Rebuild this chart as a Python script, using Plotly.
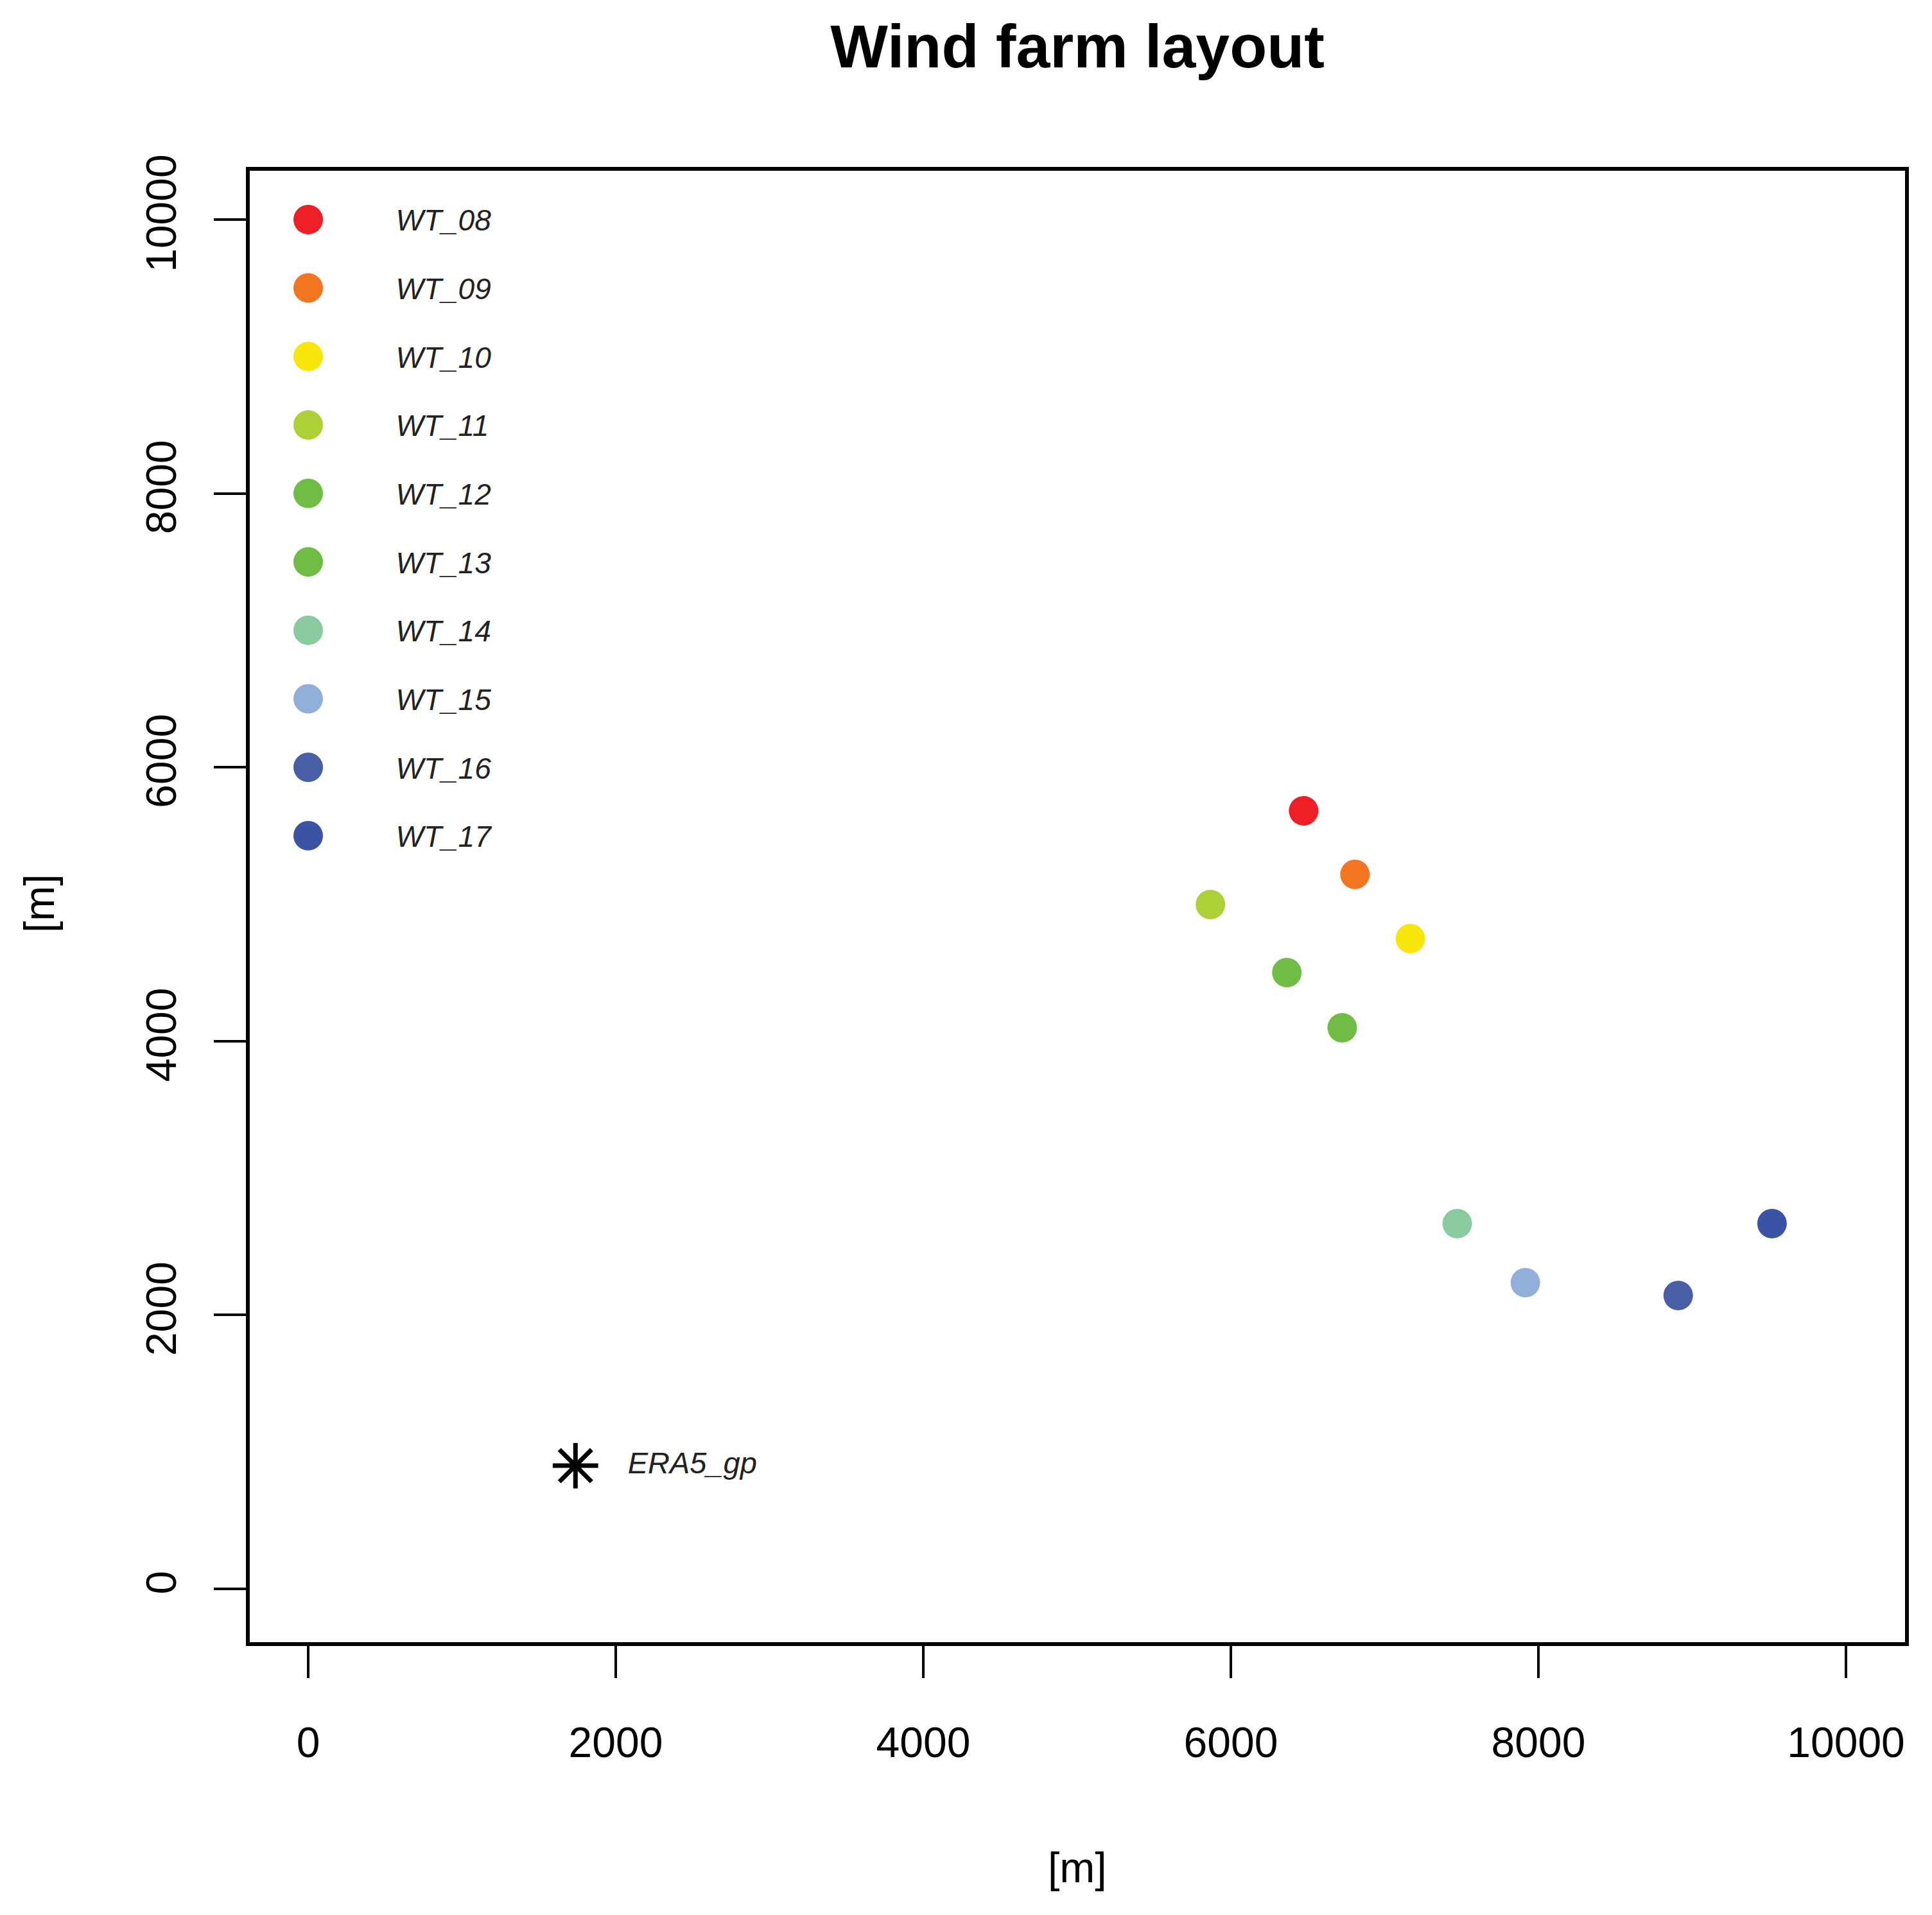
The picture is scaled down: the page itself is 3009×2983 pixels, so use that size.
import plotly.graph_objects as go

# turbine positions [m]
turbines = ["WT_08", "WT_09", "WT_10", "WT_11", "WT_12", "WT_13", "WT_14", "WT_15", "WT_16", "WT_17"]
x_m = [6473, 6807, 7167, 5867, 6364, 6724, 7472, 7915, 8909, 9519]
y_m = [5682, 5218, 4749, 4998, 4501, 4098, 2668, 2236, 2143, 2668]
colors = ["#ee1f26", "#f47521", "#f9e70b", "#add036", "#6fbd45",
          "#6fbd45", "#89cb9e", "#92afdc", "#4a5ea8", "#3b53a4"]

# ERA5 grid point
era_name = "ERA5_gp"
era_x = [1738]
era_y = [900]

ticks = [0, 2000, 4000, 6000, 8000, 10000]

# page body has an 8px margin, so the figure is a bit smaller than the window
OFF = 8
W, H = 3009 - OFF, 2983 - OFF
L, R, T, B = 389 - OFF, 42, 266 - OFF, 425
font = "Liberation Sans, Arial, sans-serif"

fig = go.Figure()

# turbines
fig.add_trace(go.Scatter(
    x=x_m, y=y_m, mode="markers",
    marker=dict(size=46, color=colors, line=dict(width=0)),
    text=turbines, hoverinfo="text", showlegend=False
))

# in-plot legend, like R's points()+text() at the top left
leg_y = [10000 - 500 * i for i in range(len(turbines))]
fig.add_trace(go.Scatter(
    x=[0] * len(turbines), y=leg_y, mode="markers",
    marker=dict(size=46, color=colors, line=dict(width=0)),
    hoverinfo="skip", showlegend=False
))
fig.add_trace(go.Scatter(
    x=[570] * len(turbines), y=[v - 28 for v in leg_y], mode="text",
    text=[f"<i>{t}</i>" for t in turbines], textposition="middle right",
    marker=dict(size=0),
    textfont=dict(family=font, size=46, color="#222"),
    hoverinfo="skip", showlegend=False
))

# ERA5 point
fig.add_trace(go.Scatter(
    x=era_x, y=era_y, mode="markers",
    marker=dict(symbol="asterisk-open", size=59, color="black",
                line=dict(width=7, color="black")),
    hoverinfo="skip", showlegend=False
))
fig.add_trace(go.Scatter(
    x=[era_x[0] + 340], y=era_y, mode="text",
    text=[f"<i>{era_name}</i>"], textposition="middle right",
    marker=dict(size=0),
    textfont=dict(family=font, size=47, color="#222"),
    hoverinfo="skip", showlegend=False
))

pw, ph = W - L - R, H - T - B

axis_common = dict(
    tickvals=ticks, ticktext=[str(t) for t in ticks],
    showgrid=False, zeroline=False,
    showline=True, mirror=True, linecolor="black", linewidth=6,
    ticks="outside", ticklen=50, tickwidth=4, tickcolor="black",
    tickfont=dict(family=font, size=66, color="black"),
)

fig.update_layout(
    width=W, height=H,
    margin=dict(l=L, r=R, t=T, b=B, autoexpand=False),
    paper_bgcolor="white", plot_bgcolor="white",
    font=dict(family=font, color="black"),
    title=dict(text="<b>Wind farm layout</b>", x=0.5, xref="paper", xanchor="center",
               y=1 - (72 - OFF) / H, yref="container", yanchor="middle",
               font=dict(family=font, size=95, color="black")),
    xaxis=dict(**axis_common, range=[-380, 10384], ticklabelstandoff=44),
    yaxis=dict(**axis_common, range=[-389, 10356], tickangle=-90, ticklabelstandoff=33),
    annotations=[
        dict(text="[m]", xref="paper", yref="paper", x=0.5, y=-(2909 - OFF - (H - B)) / ph,
             xanchor="center", yanchor="middle", showarrow=False,
             font=dict(family=font, size=66, color="black")),
        dict(text="[m]", xref="paper", yref="paper", x=-(L + OFF - 61) / pw,
             y=1 - (1407 - OFF - T) / ph,
             xanchor="center", yanchor="middle", textangle=-90, showarrow=False,
             font=dict(family=font, size=66, color="black")),
    ],
)

fig.write_html("out.html")
